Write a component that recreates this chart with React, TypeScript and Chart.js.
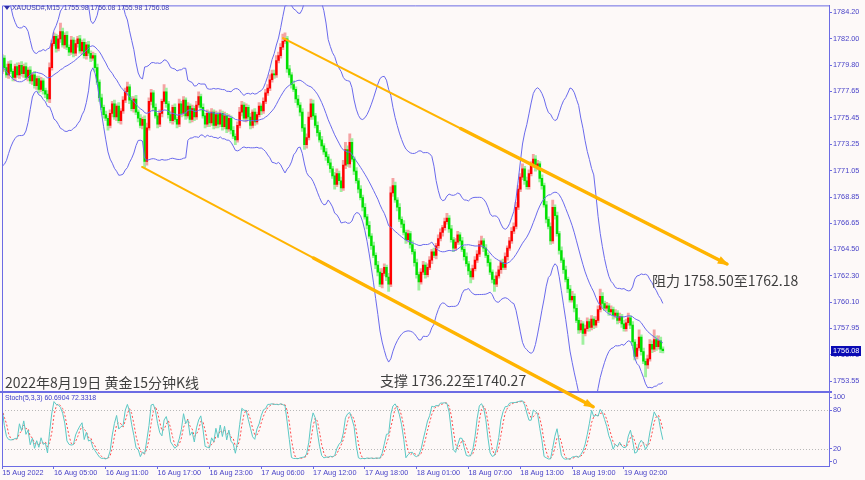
import React, { useEffect, useRef } from 'react';
import { Chart, registerables } from 'chart.js';

Chart.register(...registerables);

// ---------------- data ----------------
// closes of the 19 bars that precede the visible window (only feed the Bollinger warm-up)
const historyCloses = [
  1783.0, 1783.8, 1784.2, 1783.5, 1782.6, 1781.8, 1781.0, 1780.2, 1779.0, 1777.8,
  1776.5, 1775.6, 1775.2, 1776.0, 1777.2, 1778.3, 1779.0, 1779.2, 1779.3,
];

const firstOpen = 1779.3;

// XAUUSD M15 closes, 15 Aug 22:00 -> 19 Aug ~06:30
const closes = [
  1780.4, 1779.6, 1779.0, 1779.9, 1779.3, 1778.8, 1779.7, 1779.0, 1779.8, 1779.1,
  1779.7, 1778.8, 1779.4, 1778.5, 1779.0, 1778.1, 1778.7, 1777.8, 1778.5, 1777.7,
  1777.4, 1777.0, 1779.6, 1781.6, 1782.2, 1781.2, 1782.0, 1782.6, 1781.5, 1782.3,
  1781.3, 1780.9, 1781.9, 1780.8, 1781.6, 1782.0, 1781.0, 1781.7, 1780.6, 1781.5,
  1780.8, 1780.4, 1780.6, 1779.6, 1778.4, 1777.1, 1776.3, 1775.7, 1775.4, 1774.8,
  1775.8, 1776.6, 1775.5, 1776.4, 1775.2, 1776.0, 1776.9, 1777.6, 1778.0, 1776.9,
  1776.2, 1777.0, 1775.9, 1775.4, 1774.8, 1775.3, 1771.8, 1774.6, 1776.8, 1777.5,
  1776.3, 1775.6, 1774.9, 1775.8, 1776.8, 1777.6, 1776.6, 1775.7, 1775.2, 1776.3,
  1775.3, 1774.9, 1776.6, 1775.8, 1776.9, 1775.6, 1776.4, 1775.3, 1776.2, 1775.5,
  1776.5, 1777.2, 1776.3, 1775.6, 1774.9, 1775.8, 1775.0, 1775.9, 1774.8, 1775.7,
  1774.9, 1775.8, 1774.7, 1775.6, 1774.5, 1775.4, 1774.4, 1773.9, 1773.6, 1774.8,
  1775.9, 1776.5, 1775.4, 1776.3, 1775.5, 1774.8, 1775.9, 1775.1, 1775.7, 1776.4,
  1776.0, 1776.8, 1777.5, 1777.9, 1778.6, 1779.1, 1779.0, 1780.2, 1780.6, 1781.3,
  1781.8, 1782.0, 1779.5, 1779.0, 1778.2, 1777.8, 1777.0, 1776.5, 1775.9, 1774.6,
  1773.2, 1773.8, 1775.5, 1776.6, 1775.6, 1774.8, 1774.2, 1773.6, 1773.1, 1772.6,
  1772.2, 1771.7, 1771.2, 1770.6, 1769.9, 1770.8, 1770.2, 1769.6, 1771.5, 1772.8,
  1771.6, 1773.4, 1772.0, 1771.0, 1770.2, 1769.5, 1768.8, 1768.0, 1767.2, 1766.5,
  1765.6, 1764.8, 1764.0, 1763.2, 1762.6, 1761.6, 1762.5, 1763.0, 1762.2, 1761.6,
  1769.2, 1769.8, 1768.6, 1768.0, 1767.0, 1766.6, 1765.9, 1765.3, 1765.8, 1764.9,
  1764.3, 1763.4, 1762.4, 1761.8, 1762.6, 1763.2, 1762.4, 1763.0, 1763.6, 1764.3,
  1764.0, 1764.8, 1765.4, 1765.9, 1766.3, 1766.8, 1767.1, 1766.2, 1765.3, 1764.6,
  1765.1, 1765.7, 1765.2, 1764.5, 1763.9, 1763.3, 1762.7, 1762.2, 1762.9, 1763.6,
  1764.1, 1764.9, 1765.2, 1764.6, 1764.0, 1763.4, 1762.6, 1762.0, 1761.6, 1762.3,
  1762.8, 1763.4, 1763.0, 1763.9, 1764.6, 1765.2, 1766.0, 1766.4, 1768.0, 1769.5,
  1770.5, 1771.2, 1770.2, 1769.7, 1770.8, 1771.5, 1772.0, 1771.3, 1771.6, 1770.4,
  1769.8, 1768.2, 1767.0, 1766.4, 1765.2, 1768.0, 1767.3, 1765.8, 1764.4, 1763.6,
  1762.8, 1762.0, 1761.2, 1760.3, 1760.6, 1759.6, 1758.6, 1757.8, 1758.3, 1757.5,
  1757.9, 1758.5, 1758.0, 1758.7, 1758.2, 1758.6, 1759.5, 1760.6, 1760.0, 1759.6,
  1759.8, 1759.3, 1759.5, 1759.0, 1759.2, 1758.6, 1758.9, 1758.3, 1757.9, 1758.4,
  1758.8, 1758.2, 1756.8, 1755.6, 1756.3, 1757.2, 1756.0, 1755.2, 1754.9, 1755.4,
  1756.6, 1756.2, 1757.0, 1756.4, 1756.9, 1756.2, 1756.08,
];

// upper / lower shadow lengths, in tenths of a dollar
const upWick = [
  3, 2, 3, 2, 3, 2, 2, 3, 2, 3, 2, 3, 2, 3, 2, 3, 2, 2, 3, 2,
  2, 3, 4, 3, 3, 2, 3, 7, 3, 2, 3, 2, 3, 2, 3, 2, 3, 2, 3, 2,
  3, 2, 3, 2, 3, 2, 3, 2, 3, 2, 3, 2, 3, 2, 3, 2, 3, 3, 4, 2,
  3, 2, 3, 2, 3, 2, 3, 4, 3, 3, 2, 3, 2, 3, 2, 6, 3, 2, 3, 2,
  3, 2, 4, 2, 3, 2, 3, 2, 3, 2, 3, 4, 2, 3, 2, 3, 2, 3, 2, 3,
  2, 3, 2, 3, 2, 3, 2, 3, 2, 3, 4, 3, 2, 3, 2, 3, 2, 3, 2, 3,
  2, 3, 3, 3, 4, 3, 3, 4, 3, 3, 6, 5, 2, 3, 2, 3, 2, 3, 2, 3,
  3, 3, 4, 4, 3, 2, 3, 2, 3, 2, 3, 2, 3, 2, 3, 4, 2, 3, 4, 6,
  3, 7, 3, 2, 3, 2, 3, 2, 3, 2, 3, 2, 3, 2, 3, 3, 4, 3, 2, 3,
  5, 6, 3, 2, 3, 2, 3, 2, 3, 2, 3, 2, 3, 2, 3, 3, 2, 3, 3, 2,
  3, 2, 3, 3, 2, 3, 4, 2, 3, 2, 3, 3, 2, 3, 2, 3, 2, 2, 3, 3,
  3, 3, 4, 2, 3, 2, 3, 2, 3, 3, 3, 2, 3, 3, 2, 3, 3, 3, 4, 3,
  3, 4, 2, 3, 3, 3, 4, 3, 3, 2, 3, 2, 3, 2, 3, 6, 2, 3, 2, 3,
  2, 3, 2, 3, 4, 2, 3, 2, 3, 2, 3, 3, 2, 3, 2, 3, 3, 6, 3, 2,
  3, 2, 3, 2, 3, 2, 3, 2, 3, 3, 4, 2, 3, 2, 3, 6, 2, 3, 2, 3,
  4, 3, 8, 3, 4, 3, 2,
];
const dnWick = [
  2, 3, 2, 3, 2, 3, 3, 2, 3, 2, 3, 2, 3, 2, 3, 2, 3, 3, 2, 3,
  3, 2, 3, 2, 2, 3, 2, 3, 2, 3, 2, 3, 2, 3, 2, 3, 2, 3, 2, 3,
  2, 3, 2, 3, 2, 3, 2, 3, 2, 4, 2, 3, 2, 3, 2, 3, 2, 2, 3, 3,
  2, 3, 2, 3, 2, 3, 5, 3, 2, 3, 3, 2, 3, 2, 3, 2, 3, 3, 2, 3,
  2, 3, 2, 3, 2, 3, 2, 3, 2, 3, 2, 2, 3, 2, 3, 2, 3, 2, 3, 2,
  3, 2, 3, 2, 3, 2, 3, 2, 4, 2, 2, 3, 2, 3, 2, 3, 2, 3, 2, 2,
  3, 2, 2, 2, 2, 2, 3, 2, 2, 2, 2, 2, 3, 2, 3, 2, 3, 2, 3, 3,
  4, 3, 2, 2, 3, 2, 3, 2, 3, 2, 3, 2, 3, 2, 4, 2, 3, 3, 2, 3,
  2, 3, 2, 3, 2, 3, 2, 3, 2, 3, 2, 3, 2, 3, 3, 2, 3, 2, 3, 6,
  2, 3, 2, 3, 2, 3, 2, 3, 2, 3, 2, 3, 3, 7, 2, 2, 3, 2, 2, 3,
  2, 3, 2, 2, 3, 2, 2, 3, 2, 3, 2, 2, 3, 2, 3, 2, 3, 5, 2, 2,
  2, 2, 2, 3, 2, 3, 2, 3, 6, 2, 2, 3, 2, 2, 3, 2, 2, 2, 2, 2,
  2, 2, 3, 2, 2, 2, 2, 3, 2, 3, 3, 2, 3, 2, 3, 2, 3, 2, 3, 2,
  3, 2, 3, 2, 2, 3, 2, 3, 2, 9, 2, 2, 3, 2, 3, 2, 2, 2, 3, 2,
  2, 3, 2, 3, 2, 3, 2, 3, 2, 2, 2, 3, 3, 3, 2, 2, 3, 2, 10, 3,
  2, 3, 2, 3, 2, 3, 2,
];

const bandPeriod = 20;
const bandDeviation = 3;

const priceTicks = [
  1784.2, 1782.0, 1779.8, 1777.65, 1775.45, 1773.25, 1771.05, 1768.85,
  1766.65, 1764.5, 1762.3, 1760.1, 1757.95, 1755.75, 1753.55,
];
const stochTicks = [0, 20, 80, 100];
const stochLevels = [20, 80];
const timeTickIndex = [0, 24, 48, 72, 96, 120, 144, 168, 192, 216, 240, 264, 288];
const timeTickLabels = [
  '15 Aug 2022', '16 Aug 05:00', '16 Aug 11:00', '16 Aug 17:00', '16 Aug 23:00',
  '17 Aug 06:00', '17 Aug 12:00', '17 Aug 18:00', '18 Aug 01:00', '18 Aug 07:00',
  '18 Aug 13:00', '18 Aug 19:00', '19 Aug 02:00',
];
// channel lines: [barIndex, price]
const resistanceLine = [[130.1, 1782.06], [335.7, 1763.28]];
const supportLine = [[64.8, 1771.35], [273.7, 1751.42]];
const noteTexts = ['阻力 1758.50至1762.18', '支撑 1736.22至1740.27', '2022年8月19日 黄金15分钟K线'];
const noteBars = [301.0, 175.0, 1.3];
const notePrices = [1761.88, 1753.56, 1753.4];
const headerText = 'XAUUSD#,M15  1755.98 1756.08 1755.98 1756.08';
const stochHeader = 'Stoch(5,3,3) 60.6904 72.3318';
const lastPrice = 1756.08;

// ---------------- derived ----------------
const N = closes.length;
const opens = closes.map((c, i) => (i === 0 ? firstOpen : closes[i - 1]));
const highs = closes.map((c, i) => Math.max(opens[i], c) + upWick[i] / 10);
const lows = closes.map((c, i) => Math.min(opens[i], c) - dnWick[i] / 10);

const allCloses = [...historyCloses, ...closes];
const H = historyCloses.length;
const bbUp: any[] = [];
const bbMid: any[] = [];
const bbLo: any[] = [];
for (let i = 0; i < N; i++) {
  const end = H + i;
  const start = Math.max(0, end - (bandPeriod - 1));
  const w = allCloses.slice(start, end + 1);
  const m = w.reduce((a, b) => a + b, 0) / w.length;
  const sd = Math.sqrt(w.reduce((a, b) => a + (b - m) * (b - m), 0) / w.length);
  bbUp.push({ x: i, y: m + bandDeviation * sd });
  bbMid.push({ x: i, y: m });
  bbLo.push({ x: i, y: m - bandDeviation * sd });
}

const num: number[] = [];
const den: number[] = [];
for (let i = 0; i < N; i++) {
  const s = Math.max(0, i - 4);
  let hh = -Infinity;
  let ll = Infinity;
  for (let j = s; j <= i; j++) {
    hh = Math.max(hh, highs[j]);
    ll = Math.min(ll, lows[j]);
  }
  num.push(closes[i] - ll);
  den.push(hh - ll);
}
const kVals: number[] = [];
for (let i = 0; i < N; i++) {
  let a = 0;
  let b = 0;
  for (let j = Math.max(0, i - 2); j <= i; j++) {
    a += num[j];
    b += den[j];
  }
  kVals.push(b === 0 ? 50 : (100 * a) / b);
}
const dVals: number[] = [];
for (let i = 0; i < N; i++) {
  const s = Math.max(0, i - 2);
  const w = kVals.slice(s, i + 1);
  dVals.push(w.reduce((a, b) => a + b, 0) / w.length);
}

// ---------------- styles ----------------
const BG = '#fdf9f8';
const AXIS = '#6c6ce4';
const LABEL = '#4a44c8';
const BAND = '#6a6aec';
const ORANGE = '#ffb400';
const UP_BODY = '#ff0000';
const UP_WICK = '#f5a3a3';
const DN_BODY = '#00e000';
const DN_WICK = '#9ff09f';
const AXIS_FONT = { family: 'Liberation Sans', size: 7.3 };
const X_MIN = -0.08;
const X_MAX = 382.96;

function drawArrowHead(ctx: any, x0: number, y0: number, x1: number, y1: number) {
  const ang = Math.atan2(y1 - y0, x1 - x0);
  const L = 9;
  const W = 4;
  ctx.beginPath();
  ctx.moveTo(x1 + Math.cos(ang) * 2, y1 + Math.sin(ang) * 2);
  ctx.lineTo(x1 - Math.cos(ang) * L + Math.sin(ang) * W, y1 - Math.sin(ang) * L - Math.cos(ang) * W);
  ctx.lineTo(x1 - Math.cos(ang) * L - Math.sin(ang) * W, y1 - Math.sin(ang) * L + Math.cos(ang) * W);
  ctx.closePath();
  ctx.fill();
}

const mainOverlay = {
  id: 'mainOverlay',
  afterDraw(chart: any) {
    const { ctx, chartArea: a, scales } = chart;
    const xs = scales.x;
    const ys = scales.y;
    ctx.save();
    ctx.strokeStyle = AXIS;
    ctx.lineWidth = 1;
    ctx.beginPath();
    ctx.moveTo(a.left + 0.5, a.bottom);
    ctx.lineTo(a.left + 0.5, a.top + 0.5);
    ctx.lineTo(a.right, a.top + 0.5);
    ctx.stroke();

    const lines = [
      { pts: resistanceLine, thickFrom: 0.4 },
      { pts: supportLine, thickFrom: 0.38 },
    ];
    ctx.strokeStyle = ORANGE;
    ctx.fillStyle = ORANGE;
    ctx.lineCap = 'round';
    for (const ln of lines) {
      const x0 = xs.getPixelForValue(ln.pts[0][0]);
      const y0 = ys.getPixelForValue(ln.pts[0][1]);
      const x1 = xs.getPixelForValue(ln.pts[1][0]);
      const y1 = ys.getPixelForValue(ln.pts[1][1]);
      ctx.lineWidth = 2;
      ctx.beginPath();
      ctx.moveTo(x0, y0);
      ctx.lineTo(x1, y1);
      ctx.stroke();
      const tx = x0 + (x1 - x0) * ln.thickFrom;
      const ty = y0 + (y1 - y0) * ln.thickFrom;
      ctx.lineWidth = 3.5;
      ctx.beginPath();
      ctx.moveTo(tx, ty);
      ctx.lineTo(x1, y1);
      ctx.stroke();
      drawArrowHead(ctx, tx, ty, x1, y1);
    }

    ctx.fillStyle = '#3f3f3f';
    ctx.font = '14px "Noto Sans CJK SC", "Noto Sans", sans-serif';
    ctx.textBaseline = 'middle';
    ctx.textAlign = 'left';
    for (let i = 0; i < noteTexts.length; i++) {
      ctx.fillText(noteTexts[i], xs.getPixelForValue(noteBars[i]), ys.getPixelForValue(notePrices[i]));
    }

    ctx.fillStyle = '#2e2ea8';
    ctx.beginPath();
    ctx.moveTo(4, 6);
    ctx.lineTo(10, 6);
    ctx.lineTo(7, 10);
    ctx.closePath();
    ctx.fill();
    ctx.fillStyle = '#3a3ab4';
    ctx.font = '6.9px "Liberation Sans", sans-serif';
    ctx.fillText(headerText, 12, 8.5);

    const py = ys.getPixelForValue(lastPrice);
    ctx.fillStyle = '#0a0ab4';
    ctx.fillRect(a.right + 2, Math.round(py) - 5, 30, 10);
    ctx.fillStyle = '#ffffff';
    ctx.font = '7.3px "Liberation Sans", sans-serif';
    ctx.fillText(lastPrice.toFixed(2), a.right + 4, Math.round(py));
    ctx.restore();
  },
};

const subOverlay = {
  id: 'subOverlay',
  beforeDatasetsDraw(chart: any) {
    const { ctx, chartArea: a, scales } = chart;
    ctx.save();
    ctx.strokeStyle = '#b8b8b8';
    ctx.lineWidth = 1;
    ctx.setLineDash([1, 2]);
    for (const lv of stochLevels) {
      const y = Math.round(scales.y.getPixelForValue(lv)) + 0.5;
      ctx.beginPath();
      ctx.moveTo(a.left, y);
      ctx.lineTo(a.right, y);
      ctx.stroke();
    }
    ctx.restore();
  },
  afterDraw(chart: any) {
    const { ctx, chartArea: a } = chart;
    ctx.save();
    ctx.strokeStyle = AXIS;
    ctx.lineWidth = 1;
    ctx.beginPath();
    ctx.moveTo(a.left + 0.5, a.top);
    ctx.lineTo(a.left + 0.5, a.bottom);
    ctx.stroke();
    ctx.lineWidth = 2;
    ctx.beginPath();
    ctx.moveTo(0, a.top - 1);
    ctx.lineTo(a.right + 3, a.top - 1);
    ctx.stroke();
    ctx.fillStyle = '#3a3ac8';
    ctx.font = '6.9px "Liberation Sans", sans-serif';
    ctx.textBaseline = 'middle';
    ctx.fillText(stochHeader, 5, a.top + 5.5);
    ctx.restore();
  },
};

export default function App() {
  const mainRef = useRef<HTMLCanvasElement>(null);
  const subRef = useRef<HTMLCanvasElement>(null);

  useEffect(() => {
    const idx = closes.map((_, i) => i);
    const wickData = idx.map((i) => ({ x: i, y: [lows[i], highs[i]] }));
    const bodyData = idx.map((i) => ({ x: i, y: [opens[i], closes[i]] }));
    const isUp = idx.map((i) => closes[i] >= opens[i]);

    const main = new Chart(mainRef.current as HTMLCanvasElement, {
      type: 'bar',
      data: {
        datasets: [
          { type: 'line', data: bbUp, borderColor: BAND, borderWidth: 1, pointRadius: 0, order: 0 } as any,
          { type: 'line', data: bbMid, borderColor: BAND, borderWidth: 1, pointRadius: 0, order: 0 } as any,
          { type: 'line', data: bbLo, borderColor: BAND, borderWidth: 1, pointRadius: 0, order: 0 } as any,
          {
            type: 'bar', data: bodyData, order: 1, grouped: false, barThickness: 1.7, minBarLength: 1,
            backgroundColor: isUp.map((u) => (u ? UP_BODY : DN_BODY)),
          } as any,
          {
            type: 'bar', data: wickData, order: 2, grouped: false, barThickness: 2.2,
            backgroundColor: isUp.map((u) => (u ? UP_WICK : DN_WICK)),
          } as any,
        ],
      },
      options: {
        animation: false,
        responsive: false,
        maintainAspectRatio: false,
        events: [],
        layout: { padding: { left: 2, top: 2, right: 0, bottom: 88 } },
        plugins: { legend: { display: false }, tooltip: { enabled: false } },
        scales: {
          x: { type: 'linear', min: X_MIN, max: X_MAX, display: false, offset: false },
          y: {
            position: 'right',
            min: 1752.64,
            max: 1784.78,
            afterBuildTicks: (s: any) => { s.ticks = priceTicks.map((v) => ({ value: v })); },
            afterFit: (s: any) => { s.width = 36; },
            grid: { drawOnChartArea: false, drawTicks: true, tickLength: 3, color: AXIS },
            border: { color: AXIS, width: 1 },
            ticks: { font: AXIS_FONT, color: LABEL, padding: 1, autoSkip: false, callback: (v: any) => Number(v).toFixed(2) },
          },
        },
      } as any,
      plugins: [mainOverlay],
    });

    const sub = new Chart(subRef.current as HTMLCanvasElement, {
      type: 'line',
      data: {
        datasets: [
          { data: idx.map((i) => ({ x: i, y: kVals[i] })), borderColor: '#5cc8c4', borderWidth: 1, pointRadius: 0 },
          { data: idx.map((i) => ({ x: i, y: dVals[i] })), borderColor: '#ff4a4a', borderWidth: 1, borderDash: [2, 2], pointRadius: 0 },
        ],
      },
      options: {
        animation: false,
        responsive: false,
        maintainAspectRatio: false,
        events: [],
        layout: { padding: { left: 2, top: 393, right: 0, bottom: 0 } },
        plugins: { legend: { display: false }, tooltip: { enabled: false } },
        scales: {
          x: {
            type: 'linear', min: X_MIN, max: X_MAX, offset: false, position: 'bottom',
            afterBuildTicks: (s: any) => { s.ticks = timeTickIndex.map((v) => ({ value: v })); },
            afterFit: (s: any) => { s.height = 14; },
            grid: { drawOnChartArea: false, drawTicks: true, tickLength: 3, color: AXIS },
            border: { color: AXIS, width: 1 },
            ticks: {
              font: AXIS_FONT, color: LABEL, padding: 0, autoSkip: false, maxRotation: 0, align: 'start',
              callback: (v: any) => timeTickLabels[timeTickIndex.indexOf(Number(v))] ?? '',
            },
          },
          y: {
            position: 'right', min: -6.2, max: 106.2,
            afterBuildTicks: (s: any) => { s.ticks = stochTicks.map((v) => ({ value: v })); },
            afterFit: (s: any) => { s.width = 36; },
            grid: { drawOnChartArea: false, drawTicks: true, tickLength: 3, color: AXIS },
            border: { color: AXIS, width: 1 },
            ticks: { font: AXIS_FONT, color: LABEL, padding: 1, autoSkip: false },
          },
        },
      } as any,
      plugins: [subOverlay],
    });

    return () => {
      main.destroy();
      sub.destroy();
    };
  }, []);

  const canvasStyle: React.CSSProperties = { position: 'absolute', left: 0, top: 0, width: 865, height: 480 };
  return (
    <div style={{ position: 'fixed', left: 0, top: 0, width: 865, height: 480, background: BG, overflow: 'hidden' }}>
      <canvas ref={subRef} width={865} height={480} style={canvasStyle} />
      <canvas ref={mainRef} width={865} height={480} style={canvasStyle} />
    </div>
  );
}
